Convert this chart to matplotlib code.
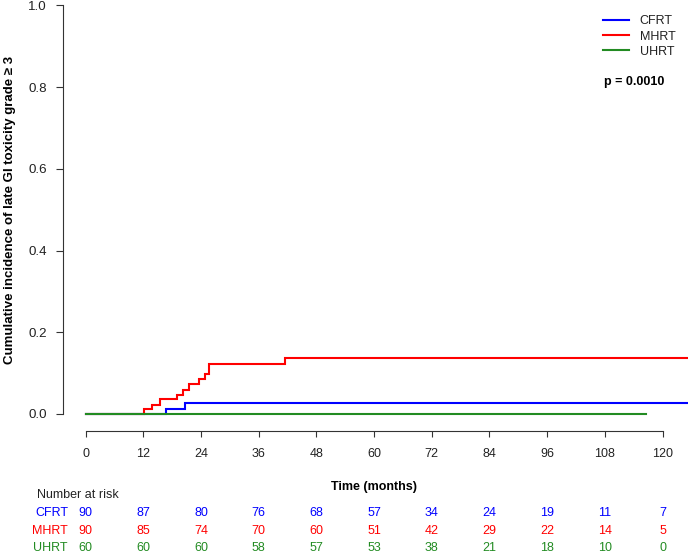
import matplotlib
matplotlib.use('Agg')
import matplotlib.pyplot as plt
from matplotlib.transforms import blended_transform_factory

plt.rcParams['font.family'] = ['Liberation Sans', 'DejaVu Sans']

W, H = 688, 554

groups = ['CFRT', 'MHRT', 'UHRT']
colors = ['#0000FF', '#FF0000', '#228B22']

cfrt_t = [0, 16.7, 20.7, 125.3]
cfrt_y = [0, 0.012, 0.027, 0.027]
mhrt_t = [0, 12.1, 13.7, 15.45, 18.9, 20.3, 21.5, 23.6, 24.8, 25.7, 41.5, 125.3]
mhrt_y = [0, 0.012, 0.023, 0.036, 0.046, 0.059, 0.073, 0.085, 0.097, 0.122, 0.136, 0.136]
uhrt_t = [0, 116.5]
uhrt_y = [0, 0]

risk_times = [0, 12, 24, 36, 48, 60, 72, 84, 96, 108, 120]
risk_cfrt = [90, 87, 80, 76, 68, 57, 34, 24, 19, 11, 7]
risk_mhrt = [90, 85, 74, 70, 60, 51, 42, 29, 22, 14, 5]
risk_uhrt = [60, 60, 60, 58, 57, 53, 38, 21, 18, 10, 0]

xticks = [0, 12, 24, 36, 48, 60, 72, 84, 96, 108, 120]
yticks = [0.0, 0.2, 0.4, 0.6, 0.8, 1.0]

FS = 9

fig = plt.figure(figsize=(W / 100, H / 100), dpi=100)
ax = fig.add_axes([62.7 / W, 1 - 431 / H, 1 - 62.7 / W, (431 - 5.3) / H])

series = [(cfrt_t, cfrt_y), (mhrt_t, mhrt_y), (uhrt_t, uhrt_y)]
handles = []
for (t, y), g, c in zip(series, groups, colors):
    h, = ax.step(t, y, where='post', color=c, lw=1.5, label=g, solid_joinstyle='miter')
    handles.append(h)

ax.set_xlim(-4.78, 125.3)
ax.set_ylim(-0.0416, 1.0)
for s in ['top', 'right']:
    ax.spines[s].set_visible(False)
ax.spines['left'].set_bounds(0, 1)
ax.spines['bottom'].set_bounds(0, 120)
for s in ['left', 'bottom']:
    ax.spines[s].set_color('#333333')
    ax.spines[s].set_linewidth(0.8)
ax.set_xticks(xticks)
ax.set_xticklabels([str(v) for v in xticks])
ax.set_yticks(yticks)
ax.set_yticklabels(['%.1f' % v for v in yticks])
ax.tick_params(axis='both', direction='out', length=5, width=0.8, color='#333333',
               labelsize=FS, labelcolor='#222222')
ax.tick_params(axis='y', pad=6.5, labelsize=9.6)
ax.tick_params(axis='x', pad=8, length=4.5)
ax.patch.set_visible(False)

fig.text(10 / W, 1 - 209.6 / H, 'Cumulative incidence of late GI toxicity grade \u2265 3',
         rotation=90, ha='center', va='center', fontsize=9.5, fontweight='bold')
fig.text(374 / W, 1 - 487 / H, 'Time (months)', ha='center', va='center',
         fontsize=FS, fontweight='bold')

leg = ax.legend(handles=handles, loc='upper left', bbox_to_anchor=(603 / W, 1 - 15.5 / H),
                bbox_transform=fig.transFigure, frameon=False, fontsize=FS,
                handlelength=2.05, handletextpad=0.9, labelspacing=0.25,
                borderpad=0, borderaxespad=0)
for txt in leg.get_texts():
    txt.set_color('#222222')
fig.text(604 / W, 1 - 81.7 / H, 'p = 0.0010', ha='left', va='center',
         fontsize=FS, fontweight='bold')

fig.text(36.7 / W, 1 - 495 / H, 'Number at risk', ha='left', va='center', fontsize=FS,
         color='#222222')
trans = blended_transform_factory(ax.transData, fig.transFigure)
rows_y = [512.7, 530.7, 548.0]
for g, c, vals, ry in zip(groups, colors, [risk_cfrt, risk_mhrt, risk_uhrt], rows_y):
    fy = 1 - ry / H
    fig.text(68 / W, fy, g, ha='right', va='center', fontsize=FS, color=c)
    for t, v in zip(risk_times, vals):
        ax.text(t, fy, str(v), transform=trans, ha='center', va='center',
                fontsize=FS, color=c, clip_on=False)

fig.savefig('out.png', dpi=100)
